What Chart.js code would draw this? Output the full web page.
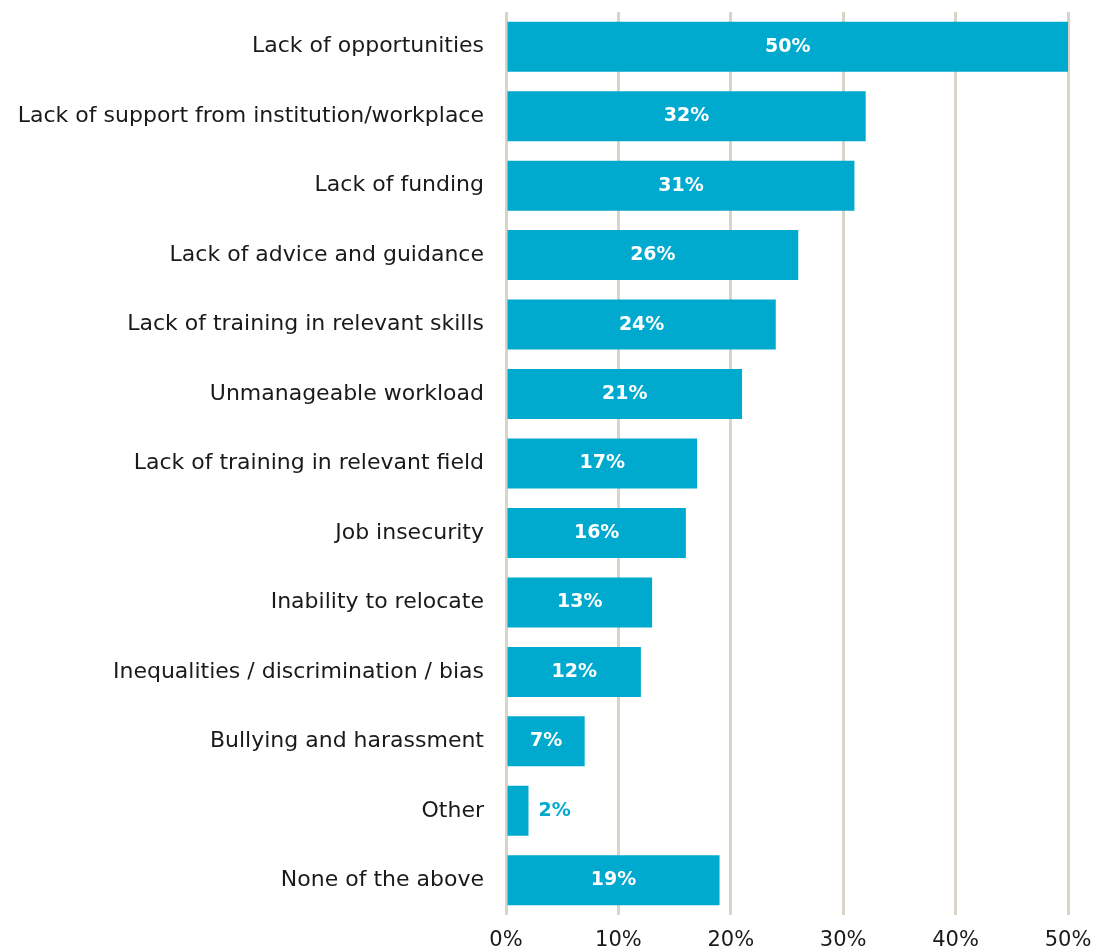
<!DOCTYPE html>
<html>
<head>
<meta charset="utf-8">
<script src="https://cdn.jsdelivr.net/npm/chart.js@4"></script>
<style>
  html, body { margin: 0; padding: 0; background: #fff; }
  #wrap { width: 1094px; height: 951px; }
</style>
</head>
<body>
<div id="wrap"><canvas id="barriers"></canvas></div>
<script>
const categories = [
  "Lack of opportunities",
  "Lack of support from institution/workplace",
  "Lack of funding",
  "Lack of advice and guidance",
  "Lack of training in relevant skills",
  "Unmanageable workload",
  "Lack of training in relevant field",
  "Job insecurity",
  "Inability to relocate",
  "Inequalities / discrimination / bias",
  "Bullying and harassment",
  "Other",
  "None of the above"
];
const shares = [50, 32, 31, 26, 24, 21, 17, 16, 13, 12, 7, 2, 19];
const xTicks = [0, 10, 20, 30, 40, 50];

const barColor = "#00a9ce";
const gridColor = "#d8d5c6";
const fontFamily = "'DejaVu Sans', sans-serif";

// draws the % labels, inside the bar when it fits, else just after it
const valueLabels = {
  id: "valueLabels",
  afterDatasetsDraw(chart) {
    const ctx = chart.ctx;
    const meta = chart.getDatasetMeta(0);
    ctx.save();
    ctx.font = "bold 19px " + fontFamily;
    ctx.textBaseline = "middle";
    meta.data.forEach((bar, i) => {
      const text = shares[i] + "%";
      const w = ctx.measureText(text).width;
      const barW = bar.x - bar.base;
      if (barW > w + 10) {
        ctx.fillStyle = "#ffffff";
        ctx.textAlign = "center";
        ctx.fillText(text, (bar.x + bar.base) / 2, bar.y);
      } else {
        ctx.fillStyle = barColor;
        ctx.textAlign = "left";
        ctx.fillText(text, bar.x + 10, bar.y);
      }
    });
    ctx.restore();
  }
};

new Chart("barriers", {
  type: "bar",
  data: {
    labels: categories,
    datasets: [{
      data: shares,
      backgroundColor: barColor,
      barPercentage: 0.72,
      categoryPercentage: 1
    }]
  },
  plugins: [valueLabels],
  options: {
    indexAxis: "y",
    responsive: true,
    maintainAspectRatio: false,
    animation: false,
    layout: { padding: { top: 12, right: 26, left: 0, bottom: 0 } },
    plugins: {
      legend: { display: false },
      tooltip: { enabled: false }
    },
    scales: {
      x: {
        min: 0,
        max: 50,
        afterBuildTicks(axis) {
          axis.ticks = xTicks.map(v => ({ value: v }));
        },
        afterFit(axis) {
          axis.height = 36;
          axis.paddingLeft = 0;
          axis.paddingRight = 0;
        },
        border: { display: false },
        grid: {
          color: gridColor,
          lineWidth: 3,
          drawTicks: false
        },
        ticks: {
          padding: 13,
          color: "#1a1a1a",
          font: { family: fontFamily, size: 21 },
          callback: v => v + "%"
        }
      },
      y: {
        afterFit(axis) {
          axis.width = 506;
          axis.paddingTop = 0;
          axis.paddingBottom = 0;
        },
        border: { display: false },
        grid: { display: false, drawTicks: false },
        ticks: {
          padding: 22,
          color: "#1a1a1a",
          font: { family: fontFamily, size: 22 }
        }
      }
    }
  }
});
</script>
</body>
</html>
